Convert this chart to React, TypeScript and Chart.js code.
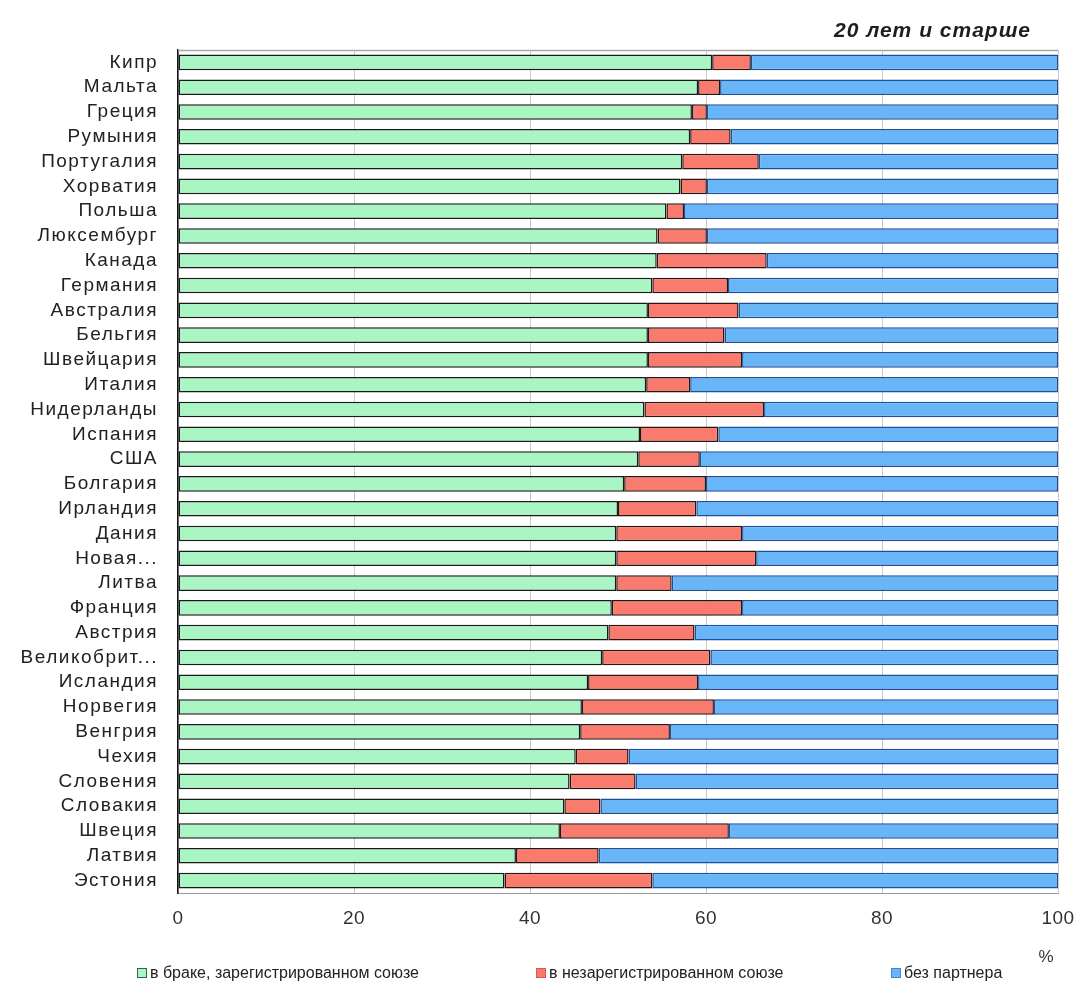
import React, { useEffect, useRef } from "react";
import { Chart, registerables } from "chart.js";

Chart.register(...registerables);

const countries = [
  "Кипр", "Мальта", "Греция", "Румыния", "Португалия", "Хорватия", "Польша",
  "Люксембург", "Канада", "Германия", "Австралия", "Бельгия", "Швейцария",
  "Италия", "Нидерланды", "Испания", "США", "Болгария", "Ирландия", "Дания",
  "Новая...", "Литва", "Франция", "Австрия", "Великобрит...", "Исландия",
  "Норвегия", "Венгрия", "Чехия", "Словения", "Словакия", "Швеция", "Латвия",
  "Эстония",
];

const married = [
  60.7, 59.1, 58.4, 58.2, 57.3, 57.1, 55.5, 54.5, 54.4, 53.9, 53.4, 53.4, 53.4,
  53.2, 53.0, 52.5, 52.3, 50.7, 50.0, 49.8, 49.8, 49.8, 49.3, 48.9, 48.2, 46.6,
  45.9, 45.7, 45.2, 44.5, 43.9, 43.4, 38.4, 37.1,
];

const cohabiting = [
  4.4, 2.5, 1.7, 4.6, 8.7, 3.0, 2.0, 5.6, 12.5, 8.6, 10.3, 8.7, 10.7, 5.0, 13.6,
  8.9, 7.0, 9.3, 8.9, 14.3, 15.9, 6.3, 14.8, 9.8, 12.3, 12.5, 15.0, 10.2, 6.0,
  7.5, 4.1, 19.2, 9.4, 16.8,
];

const noPartner = [
  34.9, 38.4, 39.9, 37.2, 34.0, 39.9, 42.5, 39.9, 33.1, 37.5, 36.3, 37.9, 35.9,
  41.8, 33.4, 38.6, 40.7, 40.0, 41.1, 35.9, 34.3, 43.9, 35.9, 41.3, 39.5, 40.9,
  39.1, 44.1, 48.8, 48.0, 52.0, 37.4, 52.2, 46.1,
];

const xTicks = [0, 20, 40, 60, 80, 100];

const seriesLabels = [
  "в браке, зарегистрированном союзе",
  "в незарегистрированном союзе",
  "без партнера",
];

const chartTitle = "20 лет и старше";
const unitLabel = "%";

const FONT = "'Liberation Sans', Arial, Helvetica, sans-serif";
const fills = ["#AAF5C4", "#F97B6E", "#68B5F7"];
const borders = ["#1a1a1a", "#2a1414", "#1f4f9c"];
const legendMarkerBorders = ["#2d6b3f", "#e0574a", "#3a86d8"];
const legendLeft = [137, 536, 891];

function spaced(scale: any, spacing: string) {
  if (scale.__spaced) return;
  scale.__spaced = true;
  const orig = scale.drawLabels.bind(scale);
  scale.drawLabels = (area: any) => {
    const ctx = scale.ctx;
    const prev = ctx.letterSpacing;
    ctx.letterSpacing = spacing;
    orig(area);
    ctx.letterSpacing = prev || "0px";
  };
}

const extrasPlugin = {
  id: "extras",
  beforeDatasetsDraw(chart: any) {
    const { ctx, chartArea: a } = chart;
    ctx.save();
    ctx.strokeStyle = "#a8a8a8";
    ctx.lineWidth = 1.5;
    ctx.beginPath();
    ctx.moveTo(a.left, a.top + 0.5);
    ctx.lineTo(a.right, a.top + 0.5);
    ctx.stroke();
    ctx.restore();
  },
  afterDraw(chart: any) {
    const { ctx, chartArea: a } = chart;
    ctx.save();
    ctx.fillStyle = "#1e1e1e";
    ctx.font = `italic bold 21px ${FONT}`;
    ctx.letterSpacing = "1px";
    ctx.textAlign = "right";
    ctx.textBaseline = "middle";
    ctx.fillText(chartTitle, a.right - 27, 31);
    ctx.letterSpacing = "0px";
    ctx.fillStyle = "#333";
    ctx.font = `17px ${FONT}`;
    ctx.textAlign = "center";
    ctx.fillText(unitLabel, a.right - 12, 957);
    ctx.restore();
  },
};

export default function App() {
  const ref = useRef<HTMLCanvasElement | null>(null);

  useEffect(() => {
    if (!ref.current) return;
    const datasets = [married, cohabiting, noPartner].map((d, i) => ({
      label: seriesLabels[i],
      data: d,
      backgroundColor: fills[i],
      borderColor: borders[i],
      borderWidth: 1.5,
      borderSkipped: false as const,
      barPercentage: 0.63,
      categoryPercentage: 1,
    }));
    const chart = new Chart(ref.current, {
      type: "bar",
      data: { labels: countries, datasets },
      plugins: [extrasPlugin],
      options: {
        indexAxis: "y",
        animation: false,
        responsive: false,
        maintainAspectRatio: false,
        layout: { padding: { top: 50, left: 0, right: 25, bottom: 54 } },
        plugins: {
          legend: { display: false },
          tooltip: { enabled: false },
          title: { display: false },
        },
        scales: {
          x: {
            stacked: true,
            min: 0,
            max: 100,
            afterBuildTicks: (scale: any) => {
              scale.ticks = xTicks.map((v) => ({ value: v }));
            },
            afterFit: (scale: any) => {
              scale.height = 40;
              scale.paddingRight = 20;
              scale.paddingLeft = 0;
              spaced(scale, "0.5px");
            },
            grid: { color: "#c9c9c9", lineWidth: 1, drawTicks: false },
            border: { display: true, color: "#9a9a9a", width: 1 },
            ticks: {
              padding: 14,
              color: "#333",
              font: { family: FONT, size: 19 },
            },
          },
          y: {
            stacked: true,
            afterFit: (scale: any) => {
              scale.width = 178;
              spaced(scale, "1.5px");
            },
            grid: { display: false, drawTicks: false },
            border: { display: true, color: "#111", width: 1.5 },
            ticks: {
              padding: 20,
              color: "#222",
              autoSkip: false,
              font: { family: FONT, size: 19 },
            },
          },
        },
      },
    });
    return () => chart.destroy();
  }, []);

  return (
    <div
      style={{
        position: "absolute",
        left: 0,
        top: 0,
        width: 1083,
        height: 987,
        background: "#fff",
        fontFamily: FONT,
      }}
    >
      <canvas ref={ref} width={1083} height={987} style={{ display: "block" }} />
      {seriesLabels.map((label, i) => (
        <div
          key={label}
          style={{
            position: "absolute",
            left: legendLeft[i],
            top: 963,
            height: 20,
            display: "flex",
            alignItems: "center",
            fontSize: 16,
            color: "#222",
            whiteSpace: "nowrap",
          }}
        >
          <span
            style={{
              display: "inline-block",
              width: 8,
              height: 8,
              background: fills[i],
              border: `1px solid ${legendMarkerBorders[i]}`,
              marginRight: 3,
            }}
          />
          {label}
        </div>
      ))}
    </div>
  );
}
